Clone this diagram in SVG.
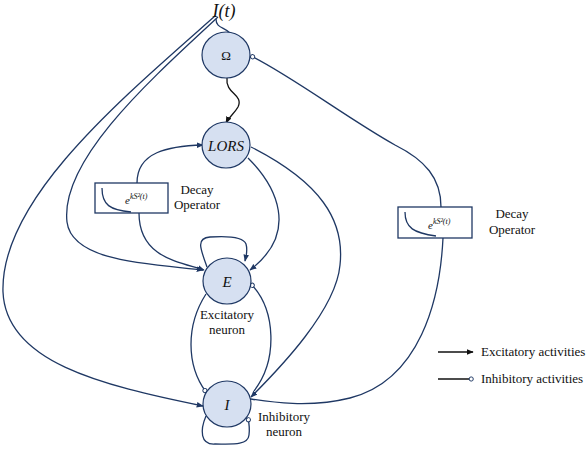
<svg xmlns="http://www.w3.org/2000/svg" width="588" height="450" viewBox="0 0 588 450">
<style>
.n{fill:#d6e0f1;stroke:#1f3864;stroke-width:1.2}
.c{fill:none;stroke:#1f3864;stroke-width:1.3}
.k{fill:none;stroke:#111;stroke-width:1.3}
text{font-family:"Liberation Serif",serif;fill:#111}
.t{font-size:13px;text-anchor:middle}
.s{font-size:13px;text-anchor:start}
.m{font-style:italic;text-anchor:middle}
.e{font-style:italic;font-size:11px}
.box{fill:#fff;stroke:#1f3864;stroke-width:1.3}
</style>
<defs>
<marker id="arr" viewBox="0 0 10 10" refX="9" refY="5" markerWidth="7" markerHeight="7" markerUnits="userSpaceOnUse" orient="auto"><path d="M0,1 L10,5 L0,9 z" fill="#1f3864"/></marker>
<marker id="arrk" viewBox="0 0 10 10" refX="9" refY="5" markerWidth="7" markerHeight="7" markerUnits="userSpaceOnUse" orient="auto"><path d="M0,1 L10,5 L0,9 z" fill="#111"/></marker>
<marker id="cir" viewBox="0 0 10 10" refX="8" refY="5" markerWidth="6" markerHeight="6" markerUnits="userSpaceOnUse" orient="auto"><circle cx="5" cy="5" r="3.5" fill="#fff" stroke="#1f3864" stroke-width="1.6"/></marker>
</defs>
<rect width="588" height="450" fill="#fff"/>

<g id="connectors">
<path class="c" d="M216,19 C216,28 224,27 230,33"/>
<path class="c" d="M218,17 C150,80 60,160 67,222 C72,262 150,264 203,270" marker-end="url(#arr)"/>
<path class="c" d="M215,16 C120,100 0,200 3,292 C6,362 100,385 203,406" marker-end="url(#arr)"/>
<path class="k" d="M227,78 C225,94 244,94 238,107 C234,114 229,117 226,123" marker-end="url(#arrk)"/>
<path class="c" d="M137,183 C137,152 168,146 203,145" marker-end="url(#arr)"/>
<path class="c" d="M139,213 C139,258 180,262 204,270" marker-end="url(#arr)"/>
<path class="c" d="M248,158 C276,186 300,232 250,270" marker-end="url(#arr)"/>
<path class="c" d="M251,147 C320,182 345,220 340,265 C336,310 280,368 251,397" marker-end="url(#arr)"/>
<path class="c" d="M441,207 C441,178 425,160 395,145 C350,120 290,75 251,56" marker-end="url(#cir)"/>
<path class="c" d="M443,238 C440,300 420,380 350,398 C310,408 270,402 251,399"/>
<path class="c" d="M207,267 C200,248 196,238 210,237 C225,236 243,236 246,244 C248,251 246,256 245,261" marker-end="url(#arr)"/>
<path class="c" d="M206,294 C186,325 186,365 206,392" marker-end="url(#cir)"/>
<path class="c" d="M254,391 C278,360 276,310 251,284" marker-end="url(#cir)"/>
<path class="c" d="M206,416 C200,430 200,445 215,444 C230,444 248,446 249,435 C250,428 249,423 248,418" marker-end="url(#cir)"/>
<path class="k" d="M438,352 L473,352" marker-end="url(#arrk)"/>
<path class="k" d="M438,379 L473,379" marker-end="url(#cir)"/>
</g>

<g id="input">
<text class="m" x="224" y="17" font-size="18">I(t)</text>
</g>
<g id="omega">
<ellipse class="n" cx="226" cy="55" rx="24" ry="23"/>
<text class="t" x="226" y="60" font-size="13">Ω</text>
</g>
<g id="lors">
<ellipse class="n" cx="226" cy="145" rx="24" ry="23"/>
<text class="m" x="226" y="151" font-size="15">LORS</text>
</g>
<g id="E">
<ellipse class="n" cx="227" cy="281" rx="24" ry="23"/>
<text class="m" x="227" y="287" font-size="15">E</text>
<text class="t" x="227" y="319">Excitatory</text>
<text class="t" x="227" y="334">neuron</text>
</g>
<g id="I">
<ellipse class="n" cx="227" cy="404" rx="24" ry="23"/>
<text class="m" x="227" y="410" font-size="15">I</text>
<text class="t" x="284" y="421">Inhibitory</text>
<text class="t" x="284" y="436">neuron</text>
</g>
<g id="decay-left">
<rect class="box" x="95" y="183" width="73" height="30"/>
<path class="c" d="M102,188 C102,205 110,210 131,212"/>
<text class="e" x="125" y="204">e<tspan font-size="8" dy="-5">kS²(t)</tspan></text>
<text class="t" x="197" y="194">Decay</text>
<text class="t" x="197" y="209">Operator</text>
</g>
<g id="decay-right">
<rect class="box" x="398" y="207" width="74" height="31"/>
<path class="c" d="M405,212 C405,228 414,233 436,236"/>
<text class="e" x="428" y="229">e<tspan font-size="8" dy="-5">kS²(t)</tspan></text>
<text class="t" x="512" y="218">Decay</text>
<text class="t" x="512" y="234">Operator</text>
</g>
<g id="legend">
<text class="s" x="481" y="356">Excitatory activities</text>
<text class="s" x="481" y="383">Inhibitory activities</text>
</g>
</svg>
